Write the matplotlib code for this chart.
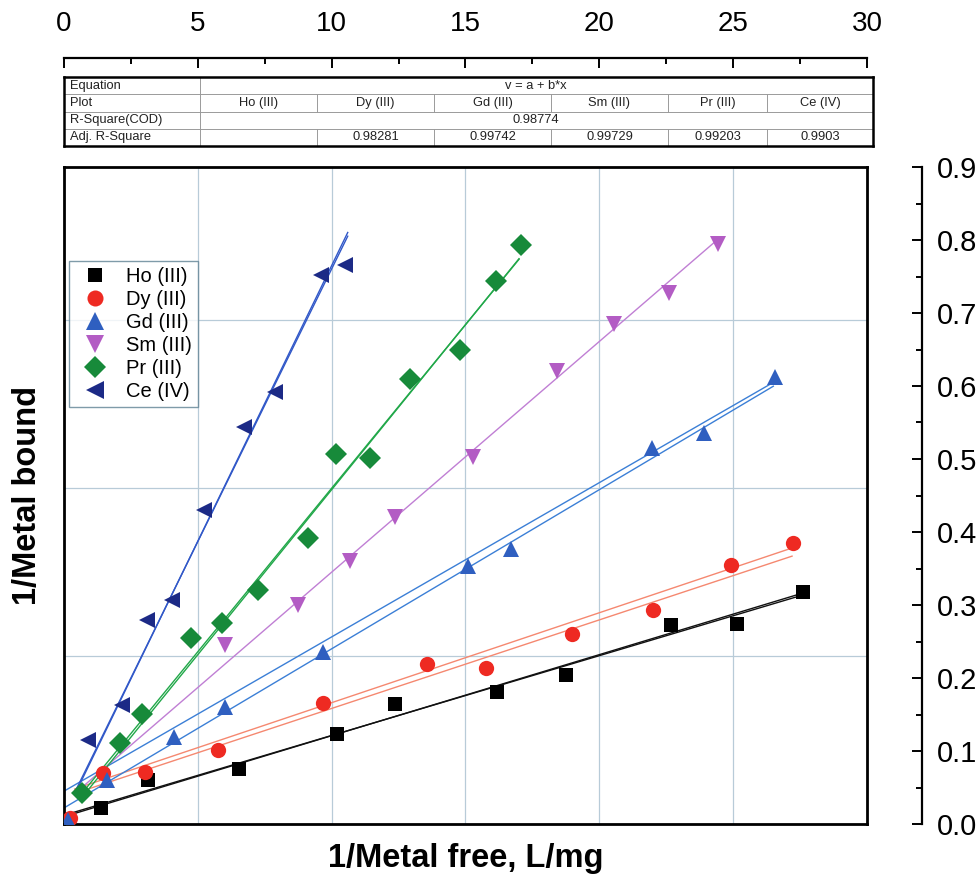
import numpy as np
import matplotlib.pyplot as plt
from matplotlib.ticker import MultipleLocator

plt.rcParams['font.family'] = ['Liberation Sans', 'DejaVu Sans']

W, H = 979, 881

# ---- data ----
ho_x = [1.38, 3.14, 6.54, 10.20, 12.36, 16.17, 18.75, 22.67, 25.14, 27.61]
ho_y = [0.022, 0.060, 0.075, 0.123, 0.164, 0.181, 0.204, 0.273, 0.274, 0.318]

dy_x = [0.22, 1.46, 3.03, 5.75, 9.67, 13.56, 15.76, 18.98, 22.00, 24.92, 27.23]
dy_y = [0.008, 0.070, 0.071, 0.101, 0.166, 0.219, 0.214, 0.260, 0.293, 0.355, 0.385]

gd_x = [0.15, 1.61, 4.11, 6.01, 9.67, 15.09, 16.70, 21.96, 23.91, 26.56]
gd_y = [0.005, 0.060, 0.119, 0.160, 0.236, 0.353, 0.377, 0.515, 0.536, 0.612]

sm_x = [6.01, 8.74, 10.68, 12.36, 15.28, 18.40, 20.55, 22.60, 24.45]
sm_y = [0.245, 0.300, 0.360, 0.420, 0.503, 0.620, 0.685, 0.727, 0.795]

pr_x = [0.67, 2.09, 2.91, 4.74, 5.90, 7.25, 9.11, 10.16, 11.43, 12.92, 14.79, 16.14, 17.07]
pr_y = [0.042, 0.111, 0.151, 0.255, 0.275, 0.321, 0.392, 0.507, 0.501, 0.610, 0.649, 0.744, 0.793]

ce_x = [0.90, 2.17, 3.10, 4.03, 5.23, 6.72, 7.88, 9.60, 10.50]
ce_y = [0.115, 0.163, 0.279, 0.307, 0.430, 0.544, 0.592, 0.752, 0.766]

labels = ["Ho (III)", "Dy (III)", "Gd (III)", "Sm (III)", "Pr (III)", "Ce (IV)"]
xs = [ho_x, dy_x, gd_x, sm_x, pr_x, ce_x]
ys = [ho_y, dy_y, gd_y, sm_y, pr_y, ce_y]
markers = ['s', 'o', '^', 'v', 'D', '<']
mcolors = ['#000000', '#ee2a22', '#2f5fc0', '#b35cc4', '#178a3a', '#1c2a86']
lcolors = ['#111111', '#f58870', '#3b7fd6', '#c07fd4', '#22a84a', '#3158c8']

# fitted lines: (x start, x end, intercept, slope), two per series (Sm one)
fit_x0 = [[0.0, 0.0], [0.4, 0.4], [0.0, 0.0], [0.5], [0.6, 0.6], [0.4, 0.4]]
fit_x1 = [[27.6, 27.6], [27.2, 27.2], [26.5, 26.5], [24.4], [17.0, 17.0], [10.6, 10.6]]
fit_a = [[0.012, 0.010], [0.043, 0.037], [0.045, 0.022], [0.029], [0.012, 0.006], [0.0134, 0.010]]
fit_b = [[0.01093, 0.0111], [0.01232, 0.01213], [0.02113, 0.0218], [0.0316], [0.0448, 0.0452], [0.0747, 0.0755]]

# table contents
tab_cols = ["Ho (III)", "Dy (III)", "Gd (III)", "Sm (III)", "Pr (III)", "Ce (IV)"]
tab_adj = ["", "0.98281", "0.99742", "0.99729", "0.99203", "0.9903"]
tab_r2 = "0.98774"
tab_eq = "v = a + b*x"

fig = plt.figure(figsize=(W / 100, H / 100), dpi=100)


def fx(px):
    return px / W


def fy(py):
    return 1 - py / H


narrow = ['Liberation Sans Narrow', 'Liberation Sans', 'DejaVu Sans']

# main plot frame
L, R, T, B = 64, 867, 167, 824
ax = fig.add_axes([fx(L), fy(B), fx(R - L), (B - T) / H])
ax.set_xlim(0, 30)
ax.set_ylim(0, 0.9)
ax.set_xticks([5, 10, 15, 20, 25])
ax.set_yticks([0.23, 0.46, 0.69])
ax.tick_params(length=0, labelbottom=False, labelleft=False)
ax.grid(True, color='#b8cbd8', lw=0.9)
ax.set_axisbelow(True)
for s in ax.spines.values():
    s.set_linewidth(2.0)

for i in range(6):
    for x0, x1, a, b in zip(fit_x0[i], fit_x1[i], fit_a[i], fit_b[i]):
        xx = np.array([x0, x1])
        ax.plot(xx, a + b * xx, color=lcolors[i], lw=1.0, zorder=2)

ms = [10, 11, 12, 12, 11, 12]
for i in range(6):
    ax.plot(xs[i], ys[i], ls='none', marker=markers[i], color=mcolors[i],
            ms=ms[i], mew=0, label=labels[i], zorder=3)

ax.set_xlabel("1/Metal free, L/mg", fontsize=23.5, fontweight='bold', labelpad=14)
ax.set_ylabel("1/Metal bound", fontsize=23.5, fontweight='bold', labelpad=15)

leg = ax.legend(loc='upper left', bbox_to_anchor=(fx(69), fy(261)),
                bbox_transform=fig.transFigure, borderaxespad=0,
                fancybox=False, edgecolor='#5f8294', fontsize=14.5,
                handletextpad=0.55, labelspacing=0.2, borderpad=0.3,
                handlelength=2.0, markerscale=1.05)
leg.get_frame().set_linewidth(1.0)

# top x axis
axt = fig.add_axes([fx(L), fy(58), fx(R - L), 0.0001])
axt.set_xlim(0, 30)
axt.set_yticks([])
for k in ['left', 'right', 'bottom']:
    axt.spines[k].set_visible(False)
axt.spines['top'].set_linewidth(1.6)
axt.patch.set_visible(False)
axt.xaxis.set_ticks_position('top')
axt.xaxis.set_major_locator(MultipleLocator(5))
axt.xaxis.set_minor_locator(MultipleLocator(2.5))
axt.tick_params(axis='x', which='major', direction='in', length=7, width=1.4,
                labelsize=20, pad=15)
axt.tick_params(axis='x', which='minor', direction='in', length=4, width=1.4)
for t in axt.get_xticklabels():
    t.set_family(narrow)

# right y axis
axr = fig.add_axes([fx(922) - 0.0001, fy(B), 0.0001, (B - T) / H])
axr.set_ylim(0, 0.9)
axr.set_xticks([])
for k in ['left', 'top', 'bottom']:
    axr.spines[k].set_visible(False)
axr.spines['right'].set_linewidth(1.6)
axr.patch.set_visible(False)
axr.yaxis.set_ticks_position('right')
axr.yaxis.set_major_locator(MultipleLocator(0.1))
axr.yaxis.set_minor_locator(MultipleLocator(0.05))
axr.yaxis.set_major_formatter(plt.FormatStrFormatter('%.1f'))
axr.tick_params(axis='y', which='major', direction='in', length=7.5, width=1.4,
                labelsize=21, pad=11)
axr.tick_params(axis='y', which='minor', direction='in', length=4, width=1.4)

# table
TL, TR, TT, TB = 64, 873, 77, 146
axtab = fig.add_axes([fx(TL), fy(TB), fx(TR - TL), (TB - TT) / H])
axtab.set_xlim(TL, TR)
axtab.set_ylim(TB, TT)
axtab.set_xticks([])
axtab.set_yticks([])
for s in axtab.spines.values():
    s.set_linewidth(1.8)
col_edges = [200, 317, 434, 551, 668, 767, 873]
row_h = (TB - TT) / 4
rows_y = [TT + row_h * (k + 0.5) for k in range(4)]
lc = '#9a9a9a'
for k in range(1, 4):
    axtab.plot([TL, TR], [TT + row_h * k] * 2, color=lc, lw=0.7)
axtab.plot([200, 200], [TT, TB], color=lc, lw=0.7)
for xe in col_edges[1:-1]:
    for r in (1, 3):
        axtab.plot([xe, xe], [TT + row_h * r, TT + row_h * (r + 1)], color=lc, lw=0.7)
fs = 9.3
tc = '#222222'
for txt, r in zip(["Equation", "Plot", "R-Square(COD)", "Adj. R-Square"], range(4)):
    axtab.text(70, rows_y[r], txt, fontsize=fs, va='center', ha='left', family=narrow, color=tc)
axtab.text(536, rows_y[0], tab_eq, fontsize=fs, va='center', ha='center', family=narrow, color=tc)
axtab.text(536, rows_y[2], tab_r2, fontsize=fs, va='center', ha='center', family=narrow, color=tc)
for j in range(6):
    cx = (col_edges[j] + col_edges[j + 1]) / 2
    axtab.text(cx, rows_y[1], tab_cols[j], fontsize=fs, va='center', ha='center', family=narrow, color=tc)
    axtab.text(cx, rows_y[3], tab_adj[j], fontsize=fs, va='center', ha='center', family=narrow, color=tc)

fig.savefig("out.png", dpi=100)
